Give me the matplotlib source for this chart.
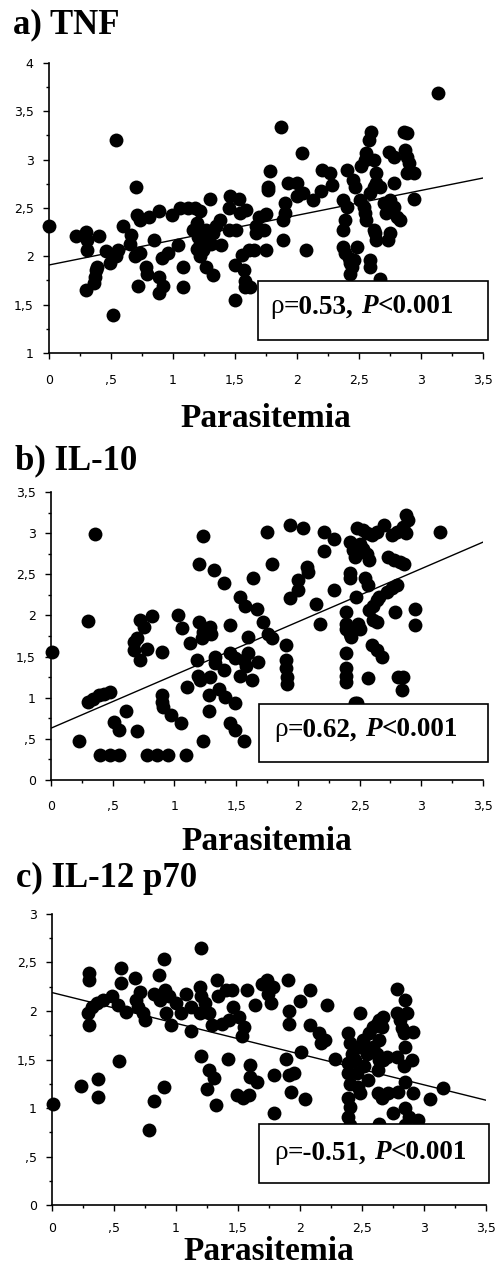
import matplotlib
matplotlib.use("Agg")
import matplotlib.pyplot as plt
from matplotlib.patches import Rectangle
from matplotlib.ticker import MultipleLocator, FuncFormatter
import numpy as np

# values: log parasitemia vs log cytokine
tnf_x = [0.00, 0.22, 0.30, 0.31, 0.40, 0.31, 0.30, 0.37, 0.38, 0.39, 0.36, 0.46, 0.49, 0.54, 0.56, 0.54, 0.52, 0.60, 0.66, 0.65,
         0.70, 0.71, 0.73, 0.69, 0.73, 0.72, 0.78, 0.79, 0.81, 0.85, 0.89, 0.91, 0.96, 0.89, 0.92, 0.89, 0.99, 1.06, 1.12, 1.04,
         1.08, 1.08, 1.18, 1.22, 1.19, 1.16, 1.20, 1.22, 1.24, 1.19, 1.22, 1.27, 1.32, 1.35, 1.38, 1.30, 1.27, 1.32, 1.39, 1.31,
         1.28, 1.45, 1.46, 1.45, 1.53, 1.54, 1.59, 1.51, 1.50, 1.50, 1.57, 1.58, 1.58, 1.56, 1.61, 1.65, 1.62, 1.67, 1.67, 1.69,
         1.75, 1.75, 1.78, 1.77, 1.77, 1.73, 1.90, 1.90, 1.89, 1.89, 1.87, 1.93, 2.00, 2.00, 2.05, 2.04, 2.07, 2.13, 2.19, 2.20,
         2.27, 2.28, 2.40, 2.45, 2.47, 2.37, 2.40, 2.39, 2.37, 2.37, 2.39, 2.42, 2.43, 2.46, 2.43, 2.44, 2.48, 2.52, 2.55, 2.56,
         2.58, 2.60, 2.51, 2.54, 2.55, 2.56, 2.59, 2.62, 2.64, 2.67, 2.59, 2.59, 2.62, 2.64, 2.63, 2.67, 2.64, 2.62, 2.70, 2.72,
         2.75, 2.74, 2.78, 2.78, 2.78, 2.81, 2.83, 2.86, 2.89, 2.87, 2.89, 2.90, 2.89, 2.94, 2.94, 3.14, 2.73, 2.75]
tnf_y = [2.31, 2.21, 2.25, 2.17, 2.21, 2.07, 1.65, 1.79, 1.86, 1.89, 1.72, 2.05, 1.93, 2.00, 2.07, 3.20, 1.39, 2.31, 2.22, 2.13,
         2.72, 2.43, 2.38, 2.00, 2.03, 1.69, 1.89, 1.82, 2.41, 2.17, 2.47, 1.98, 2.03, 1.79, 1.69, 1.62, 2.43, 2.50, 2.50, 2.12,
         1.89, 1.68, 2.50, 2.47, 2.34, 2.27, 2.20, 2.13, 2.07, 2.08, 2.00, 2.27, 2.24, 2.31, 2.38, 2.59, 1.89, 1.81, 2.12, 2.13,
         2.17, 2.27, 2.62, 2.50, 2.59, 2.45, 2.48, 2.27, 1.91, 1.55, 1.86, 1.74, 1.68, 2.01, 2.07, 2.07, 1.68, 2.24, 2.31, 2.41,
         2.44, 2.07, 2.88, 2.72, 2.69, 2.27, 2.55, 2.45, 2.38, 2.17, 3.34, 2.76, 2.76, 2.62, 2.65, 3.07, 2.07, 2.58, 2.67, 2.89,
         2.86, 2.74, 2.89, 2.79, 2.72, 2.58, 2.51, 2.38, 2.27, 2.10, 2.03, 1.98, 1.93, 1.96, 1.82, 1.89, 2.10, 2.93, 3.00, 3.07,
         3.20, 3.29, 2.58, 2.51, 2.45, 2.38, 2.65, 2.72, 2.76, 2.72, 1.96, 1.89, 2.27, 2.17, 2.24, 1.76, 2.86, 3.00, 2.55, 2.45,
         2.58, 3.08, 3.03, 2.76, 2.51, 2.41, 2.38, 3.29, 3.27, 3.10, 3.03, 2.96, 2.86, 2.86, 2.59, 3.69, 2.17, 2.24]

il10_x = [0.01, 0.23, 0.30, 0.36, 0.30, 0.34, 0.39, 0.43, 0.48, 0.40, 0.48, 0.55, 0.51, 0.55, 0.61, 0.67, 0.70, 0.67, 0.72, 0.72,
          0.75, 0.78, 0.82, 0.70, 0.78, 0.86, 0.95, 0.90, 0.90, 0.90, 0.91, 0.97, 1.05, 1.03, 1.06, 1.10, 1.09, 1.13, 1.20, 1.20,
          1.22, 1.23, 1.18, 1.19, 1.21, 1.23, 1.23, 1.29, 1.30, 1.29, 1.28, 1.28, 1.32, 1.40, 1.33, 1.33, 1.36, 1.41, 1.40, 1.45,
          1.45, 1.49, 1.45, 1.49, 1.49, 1.53, 1.57, 1.53, 1.56, 1.58, 1.60, 1.56, 1.60, 1.63, 1.64, 1.67, 1.68, 1.72, 1.75, 1.76,
          1.79, 1.79, 1.90, 1.90, 1.90, 1.91, 1.91, 1.94, 1.94, 2.00, 2.00, 2.04, 2.07, 2.08, 2.15, 2.18, 2.21, 2.29, 2.21, 2.29,
          2.39, 2.39, 2.39, 2.42, 2.43, 2.39, 2.39, 2.39, 2.39, 2.42, 2.42, 2.42, 2.45, 2.46, 2.46, 2.48, 2.47, 2.49, 2.50, 2.48,
          2.53, 2.56, 2.60, 2.64, 2.50, 2.53, 2.56, 2.58, 2.54, 2.57, 2.57, 2.58, 2.61, 2.64, 2.66, 2.61, 2.64, 2.60, 2.64, 2.68,
          2.70, 2.72, 2.76, 2.80, 2.73, 2.78, 2.83, 2.86, 2.76, 2.80, 2.79, 2.81, 2.85, 2.84, 2.88, 2.89, 2.88, 2.85, 2.95, 2.95,
          3.15]
il10_y = [1.55, 0.47, 1.93, 2.99, 0.95, 0.99, 1.03, 1.05, 1.07, 0.30, 0.30, 0.30, 0.71, 0.61, 0.84, 1.68, 1.72, 1.58, 1.46, 1.94,
          1.86, 1.59, 1.99, 0.60, 0.30, 0.30, 0.30, 1.56, 1.03, 0.95, 0.89, 0.79, 0.69, 2.01, 1.85, 1.13, 0.30, 1.67, 2.63, 1.92,
          1.72, 1.80, 1.46, 1.27, 1.21, 2.96, 0.47, 1.86, 1.78, 1.25, 1.03, 0.84, 2.55, 2.40, 1.50, 1.42, 1.11, 1.01, 1.34, 1.88,
          1.54, 1.48, 0.69, 0.61, 0.93, 2.23, 2.12, 1.27, 1.46, 1.38, 1.54, 0.47, 1.74, 1.21, 2.46, 2.08, 1.44, 1.92, 3.01, 1.78,
          1.72, 2.62, 1.64, 1.46, 1.36, 1.25, 1.17, 2.21, 3.10, 2.43, 2.31, 3.06, 2.59, 2.53, 2.14, 1.90, 3.01, 2.93, 2.78, 2.31,
          2.04, 1.90, 1.84, 1.78, 1.74, 1.54, 1.36, 1.27, 1.19, 2.51, 2.45, 2.89, 2.79, 2.71, 0.93, 0.93, 2.23, 1.90, 1.84, 3.06,
          3.04, 3.00, 2.98, 3.02, 2.87, 2.81, 2.75, 2.67, 2.45, 2.37, 1.24, 2.06, 2.12, 2.19, 2.23, 1.94, 1.92, 1.64, 1.58, 1.50,
          3.10, 2.29, 2.33, 2.37, 2.71, 2.67, 2.65, 2.62, 2.98, 3.02, 2.04, 1.25, 1.25, 1.09, 3.22, 3.16, 3.00, 3.08, 2.08, 1.88,
          3.01]

il12_x = [0.01, 0.23, 0.30, 0.30, 0.29, 0.30, 0.32, 0.36, 0.41, 0.37, 0.37, 0.48, 0.53, 0.60, 0.56, 0.56, 0.54, 0.67, 0.71, 0.68,
          0.69, 0.73, 0.75, 0.78, 0.82, 0.86, 0.82, 0.87, 0.90, 0.91, 0.94, 0.92, 0.96, 0.90, 1.00, 1.04, 1.08, 1.12, 1.12, 1.20,
          1.19, 1.20, 1.23, 1.19, 1.20, 1.25, 1.27, 1.29, 1.27, 1.31, 1.32, 1.33, 1.34, 1.37, 1.40, 1.45, 1.46, 1.43, 1.42, 1.49,
          1.54, 1.59, 1.51, 1.55, 1.53, 1.57, 1.60, 1.60, 1.65, 1.64, 1.69, 1.73, 1.74, 1.77, 1.78, 1.79, 1.79, 1.90, 1.91, 1.91,
          1.89, 1.91, 1.95, 1.93, 2.00, 2.01, 2.04, 2.08, 2.08, 2.15, 2.17, 2.20, 2.22, 2.28, 2.39, 2.40, 2.42, 2.39, 2.39, 2.40,
          2.39, 2.40, 2.39, 2.40, 2.44, 2.46, 2.47, 2.48, 2.48, 2.48, 2.51, 2.54, 2.52, 2.55, 2.56, 2.59, 2.62, 2.64, 2.67, 2.59,
          2.62, 2.64, 2.63, 2.66, 2.64, 2.67, 2.70, 2.63, 2.66, 2.71, 2.64, 2.75, 2.78, 2.78, 2.81, 2.82, 2.84, 2.78, 2.84, 2.79,
          2.85, 2.86, 2.85, 2.85, 2.91, 2.85, 2.88, 2.85, 2.90, 2.91, 2.95, 3.05, 3.15]
il12_y = [1.04, 1.23, 2.39, 2.32, 1.98, 1.86, 2.04, 2.08, 2.11, 1.30, 1.11, 2.15, 2.06, 1.99, 2.44, 2.29, 1.48, 2.34, 2.20, 2.11,
          2.04, 1.98, 1.91, 0.77, 1.07, 2.37, 2.18, 2.11, 2.54, 2.22, 2.15, 1.98, 1.86, 1.22, 2.08, 1.98, 2.18, 1.79, 2.04, 2.65,
          2.25, 2.15, 2.08, 1.98, 1.54, 1.20, 1.98, 1.86, 1.39, 1.31, 1.03, 2.32, 2.15, 1.87, 2.22, 2.22, 2.04, 1.91, 1.51, 1.13,
          1.10, 1.13, 1.94, 1.84, 1.74, 2.22, 1.44, 1.32, 1.27, 2.06, 2.28, 2.32, 2.18, 2.08, 2.25, 0.95, 1.34, 2.32, 2.00, 1.87,
          1.51, 1.34, 1.36, 1.16, 2.10, 1.58, 1.09, 2.22, 1.86, 1.77, 1.67, 1.70, 2.06, 1.51, 1.77, 1.67, 1.56, 1.46, 1.36, 1.25,
          1.10, 1.01, 0.91, 0.82, 1.49, 1.36, 1.22, 1.15, 1.98, 1.63, 1.70, 1.56, 1.43, 1.29, 1.77, 1.84, 1.87, 1.91, 1.94, 1.63,
          1.56, 1.49, 1.39, 1.84, 1.70, 1.49, 1.53, 1.15, 1.10, 1.15, 0.84, 0.95, 2.23, 1.98, 1.91, 1.82, 1.77, 1.53, 1.43, 1.16,
          2.11, 1.98, 1.63, 1.27, 1.15, 1.00, 0.91, 0.82, 1.49, 1.78, 0.88, 1.09, 1.21]

# regression lines as drawn (intercept, slope)
tnf_fit = (1.91, 0.257)
il10_fit = (0.63, 0.646)
il12_fit = (2.19, -0.317)

titles = ["a) TNF", "b) IL-10", "c) IL-12 p70"]
rho_labels = ["=0.53,", "=0.62,", "=-0.51,"]
y_limits = [(1, 4), (0, 3.5), (0, 3)]

SERIF = "Liberation Serif"
SANS = "DejaVu Sans"

axes_rects = [[0.0984, 0.7223, 0.8715, 0.2282],
              [0.1024, 0.3863, 0.8675, 0.2266],
              [0.1044, 0.0519, 0.8715, 0.2290]]
title_pos = [(0.026, 0.974), (0.030, 0.631), (0.032, 0.302)]
xlabel_y = [-0.255, -0.243, -0.19]
xtick_pad = [10.5, 10.0, 7.5]
box_rects = [(0.482, 0.045, 0.530, 0.203),
             (0.481, 0.0625, 0.531, 0.202),
             (0.477, 0.0756, 0.530, 0.202)]
text_pos = [(0.510, 0.159), (0.517, 0.174), (0.512, 0.179)]


def comma_fmt(v, pos):
    if abs(v) < 1e-9:
        return "0"
    s = f"{v:g}".replace(".", ",")
    if s.startswith("0,"):
        s = s[1:]
    return s


fig = plt.figure(figsize=(4.98, 12.71), dpi=100)

data = [(tnf_x, tnf_y, tnf_fit), (il10_x, il10_y, il10_fit), (il12_x, il12_y, il12_fit)]

for i, (xs, ys, fit) in enumerate(data):
    ax = fig.add_axes(axes_rects[i])
    ax.scatter(xs, ys, s=100, color="black", linewidths=0, zorder=2, clip_on=False)

    line_x = np.array([0.0, 3.5])
    ax.plot(line_x, fit[0] + fit[1] * line_x, color="black", lw=1.0, zorder=3)

    ax.set_xlim(0, 3.5)
    ax.set_ylim(*y_limits[i])
    for side in ["top", "right"]:
        ax.spines[side].set_visible(False)
    for side in ["left", "bottom"]:
        ax.spines[side].set_linewidth(1.2)

    ax.xaxis.set_major_locator(MultipleLocator(0.5))
    ax.xaxis.set_minor_locator(MultipleLocator(0.25))
    ax.yaxis.set_major_locator(MultipleLocator(0.5))
    ax.yaxis.set_minor_locator(MultipleLocator(0.25))
    ax.xaxis.set_major_formatter(FuncFormatter(comma_fmt))
    ax.yaxis.set_major_formatter(FuncFormatter(comma_fmt))
    ax.tick_params(axis="both", which="major", direction="out", length=4.5, width=1.0)
    ax.tick_params(axis="both", which="minor", direction="out", length=2.5, width=1.0)
    ax.tick_params(axis="x", which="major", pad=xtick_pad[i])
    ax.tick_params(axis="y", which="major", pad=6.5)
    for lab in ax.get_xticklabels() + ax.get_yticklabels():
        lab.set_fontfamily(SANS)
        lab.set_fontsize(9)

    # white box with the correlation text, drawn over the points
    bx, by, bw, bh = box_rects[i]
    ax.add_patch(Rectangle((bx, by), bw, bh, transform=ax.transAxes, facecolor="white",
                           edgecolor="black", lw=1.2, zorder=5, clip_on=False))
    tx, ty = text_pos[i]
    t1 = ax.text(tx, ty, "ρ", transform=ax.transAxes, family=SERIF, fontsize=19.5,
                 va="center", ha="left", zorder=6)
    t2 = ax.annotate(rho_labels[i], xy=(1, 0), xycoords=t1, va="bottom", ha="left",
                     family=SERIF, fontsize=19.5, fontweight="bold", zorder=6)
    t3 = ax.annotate("P", xy=(1, 0), xycoords=t2, xytext=(5, 0), textcoords="offset points",
                     va="bottom", ha="left", family=SERIF, fontsize=19.5, fontweight="bold",
                     fontstyle="italic", zorder=6)
    ax.annotate("<0.001", xy=(1, 0), xycoords=t3, va="bottom", ha="left",
                family=SERIF, fontsize=19.5, fontweight="bold", zorder=6)

    ax.text(0.5, xlabel_y[i], "Parasitemia", transform=ax.transAxes, ha="center",
            va="baseline", family=SERIF, fontsize=24, fontweight="bold")

    fig.text(title_pos[i][0], title_pos[i][1], titles[i], ha="left", va="baseline",
             family=SERIF, fontsize=25, fontweight="bold")

fig.savefig("out.png", dpi=100)
